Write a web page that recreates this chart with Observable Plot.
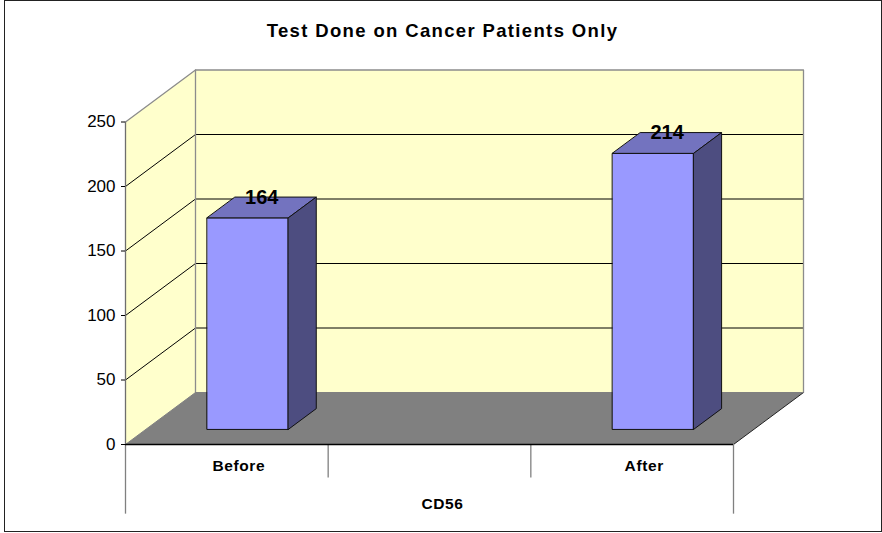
<!DOCTYPE html>
<html>
<head>
<meta charset="utf-8">
<script src="https://cdn.jsdelivr.net/npm/d3@7"></script>
<script src="https://cdn.jsdelivr.net/npm/@observablehq/plot@0.6"></script>
<style>
  html, body { margin: 0; padding: 0; background: #fff; }
  #chart { position: relative; width: 882px; height: 533px; overflow: hidden; font-family: "Liberation Sans", Arial, sans-serif; }
  #frame { position: absolute; left: 4px; top: 0; width: 876px; height: 530px; border: 1.5px solid #222; box-sizing: content-box; pointer-events: none; }
  #title { position: absolute; left: 4px; width: 877px; top: 21px; text-align: center; font-size: 18.5px; font-weight: bold; letter-spacing: 1.35px; line-height: 20px; color: #000; }
  svg { position: absolute; left: 0; top: 0; }
  .cat text { letter-spacing: 0.6px; }
</style>
</head>
<body>
<div id="chart">
  <div id="title"></div>
  <div id="frame"></div>
</div>
<script>
// Chart values
const titleText = "Test Done on Cancer Patients Only";
const categories = ["Before", "After"];
const categorySlots = [0.5, 2.5];
const values = [164, 214];
const groupLabel = "CD56";
const groupSlot = 1.5;
const yTicks = [0, 50, 100, 150, 200, 250];
const slotEdges = [0, 1, 2, 3];
const xDomain = [0, 3];
const yDomain = [0, 250];

// Oblique depth of the 3-D box, in data units per unit of depth
const depthX = 0.3454;
const depthY = 40.3;
const barHalfWidth = 0.2;
const barCentreShift = 0.003;
const barZ = [0.29, 0.69];

const P = (x, y, z) => ({x: x + z * depthX, y: y + z * depthY});
const poly = (...pts) => pts.map(([x, y, z]) => P(x, y, z));
const face = (rows, fill, stroke, strokeWidth = 1) =>
  Plot.line(rows, {x: "x", y: "y", curve: "linear-closed", fill, stroke, strokeWidth});
const seg = (rows, stroke, strokeWidth = 1) =>
  Plot.line(rows, {x: "x", y: "y", stroke, strokeWidth});

const [x0, x1] = xDomain;
const [y0, y1] = yDomain;

const wallFill = "#FFFFCC";
const floorFill = "#808080";
const barFront = "#9999FF";
const barTop = "#7373BF";
const barSide = "#4D4D80";

const walls = [
  face(poly([x0, y0, 1], [x1, y0, 1], [x1, y1, 1], [x0, y1, 1]), wallFill, "none"),
  face(poly([x0, y0, 0], [x0, y0, 1], [x0, y1, 1], [x0, y1, 0]), wallFill, "none"),
  face(poly([x0, y0, 0], [x1, y0, 0], [x1, y0, 1], [x0, y0, 1]), floorFill, "none")
];

const grid = yTicks.filter(v => v > 0 && v < y1).map(v =>
  seg(poly([x0, v, 0], [x0, v, 1], [x1, v, 1]), "#000"));
const firstGrid = seg(poly([x0, y0, 0], [x0, y0, 1]), "#808080");

const edges = [
  seg(poly([x0, y1, 0], [x0, y1, 1], [x1, y1, 1], [x1, y0, 1]), "#8c8c8c", 1.3),
  seg(poly([x0, y1, 1], [x0, y0, 1]), "#8c8c8c", 1.3),
  seg(poly([x1, y0, 0], [x1, y0, 1]), "#222", 1),
  seg(poly([x0, y0, 1], [x1, y0, 1]), "#808080", 1)
];

const bars = values.flatMap((v, i) => {
  const a = categorySlots[i] + barCentreShift - barHalfWidth;
  const b = categorySlots[i] + barCentreShift + barHalfWidth;
  const [zf, zb] = barZ;
  return [
    face(poly([a, 0, zf], [b, 0, zf], [b, v, zf], [a, v, zf]), barFront, "#111"),
    face(poly([a, v, zf], [b, v, zf], [b, v, zb], [a, v, zb]), barTop, "#111"),
    face(poly([b, 0, zf], [b, 0, zb], [b, v, zb], [b, v, zf]), barSide, "#111")
  ];
});

const barLabels = Plot.text(values.map((v, i) => {
  const p = P(categorySlots[i] + barCentreShift, v, (barZ[0] + barZ[1]) / 2);
  return {x: p.x, y: p.y, label: String(v)};
}), {x: "x", y: "y", text: "label", dy: -10, fontSize: 20, fontWeight: "bold", fill: "#000"});

const chart = Plot.plot({
  width: 882,
  height: 533,
  marginLeft: 125,
  marginRight: 149,
  marginTop: 121.5,
  marginBottom: 89,
  style: {background: "transparent", fontFamily: "'Liberation Sans', Arial, sans-serif", overflow: "visible"},
  x: {domain: xDomain, axis: null},
  y: {domain: yDomain, axis: null},
  marks: [
    ...walls,
    firstGrid,
    ...grid,
    ...edges,
    ...bars,
    barLabels,
    Plot.ruleX(slotEdges, {x: d => d, y1: 0, y2: d => (d === x0 || d === x1) ? -54 : -26, stroke: "#808080", strokeWidth: 1.3}),
    Plot.ruleY([y0], {stroke: "#000", strokeWidth: 1.3}),
    Plot.ruleX([x0], {y1: y0, y2: y1, stroke: "#6e6e6e", strokeWidth: 1.3}),
    Plot.axisY(yTicks, {anchor: "left", tickSize: 4, tickPadding: 6, fontSize: 17, stroke: "#000", fill: "#000", label: null}),
    Plot.text(categories, {x: categorySlots, y: () => -17, text: d => d, dx: 12, fontSize: 15.5, fontWeight: "bold", fill: "#000", className: "cat"}),
    Plot.text([groupLabel], {x: [groupSlot], y: () => -46, text: d => d, dx: 13, fontSize: 15.5, fontWeight: "bold", fill: "#000", className: "cat"})
  ]
});
document.getElementById("title").textContent = titleText;
document.getElementById("chart").prepend(chart);
</script>
</body>
</html>
